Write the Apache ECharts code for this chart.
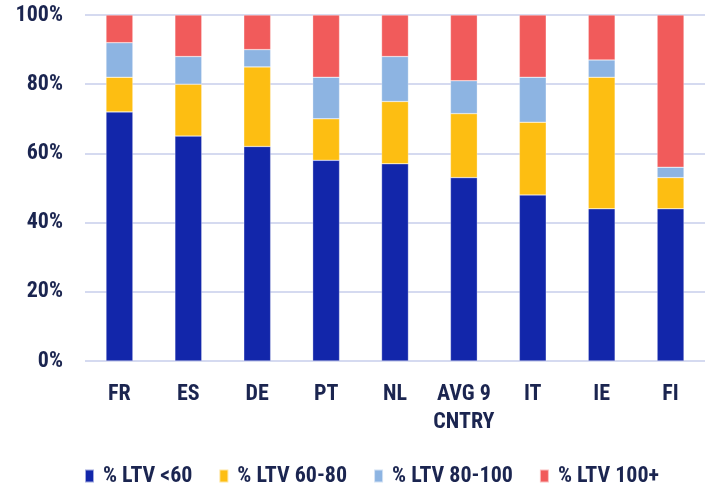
<!DOCTYPE html>
<html>
<head>
<meta charset="utf-8">
<script src="https://cdn.jsdelivr.net/npm/echarts@6/dist/echarts.min.js"></script>
<style>
  html, body { margin: 0; padding: 0; background: #fff; }
  #chart { width: 712px; height: 485px; }
</style>
</head>
<body>
<div id="chart"></div>
<script>
const categories = ['FR', 'ES', 'DE', 'PT', 'NL', 'AVG 9\nCNTRY', 'IT', 'IE', 'FI'];
const ltvBelow60 = [72, 65, 62, 58, 57, 53, 48, 44, 44];
const ltv60to80 = [10, 15, 23, 12, 18, 18.5, 21, 38, 9];
const ltv80to100 = [10, 8, 5, 12, 13, 9.5, 13, 5, 3];
const ltv100plus = [8, 12, 10, 18, 12, 19, 18, 13, 44];
const seriesNames = ['% LTV <60', '% LTV 60-80', '% LTV 80-100', '% LTV 100+'];
const colors = ['#1226AA', '#FDBE12', '#8DB4E2', '#F15B5B'];

const textColor = '#1B2550';
const font = '"Roboto Condensed", "Liberation Sans", sans-serif';

const chart = echarts.init(document.getElementById('chart'));

const series = [ltvBelow60, ltv60to80, ltv80to100, ltv100plus].map((data, i) => ({
  name: seriesNames[i],
  type: 'bar',
  stack: 'ltv',
  data,
  barWidth: '39%',
  itemStyle: { color: colors[i], borderColor: 'rgba(255,255,255,0.6)', borderWidth: 0.5 },
}));

chart.setOption({
  animation: false,
  color: colors,
  grid: { left: 85, right: 7, top: 15, bottom: 124 },
  legend: {
    top: 465,
    left: 84,
    padding: 0,
    itemWidth: 9,
    itemHeight: 13,
    itemGap: 26,
    icon: 'rect',
    textStyle: {
      color: textColor,
      fontSize: 22,
      fontWeight: 'bold',
      fontFamily: font,
      padding: [0, 0, 0, 4],
    },
  },
  xAxis: {
    type: 'category',
    data: categories,
    axisLine: { show: false },
    axisTick: { show: false },
    axisLabel: {
      interval: 0,
      color: textColor,
      fontSize: 22,
      fontWeight: 'bold',
      fontFamily: font,
      margin: 19,
      lineHeight: 28,
      verticalAlign: 'top',
    },
  },
  yAxis: {
    type: 'value',
    min: 0,
    max: 100,
    interval: 20,
    axisLine: { show: false },
    axisTick: { show: false },
    axisLabel: {
      color: textColor,
      fontSize: 22,
      fontWeight: 'bold',
      fontFamily: font,
      margin: 22,
      formatter: '{value}%',
    },
    splitLine: { lineStyle: { color: '#D5DAF0', width: 2 } },
  },
  series,
});
</script>
</body>
</html>
